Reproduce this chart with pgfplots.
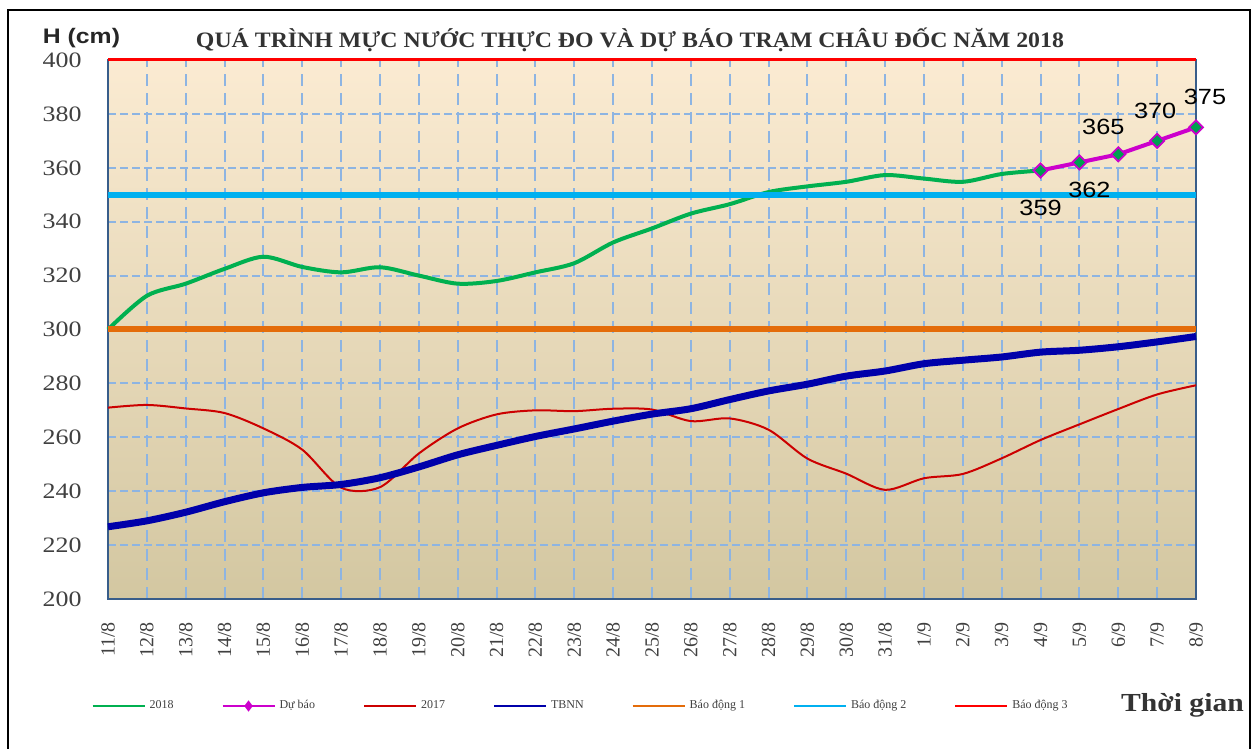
\documentclass[border=0pt]{standalone}
\usepackage{fontspec}
\setmainfont{Liberation Serif}
\newfontfamily\arialfont{Liberation Sans}
\usepackage{pgfplots}
\usepackage{pgfplotstable}
\pgfplotsset{compat=1.18}

\definecolor{cGreen}{HTML}{00B050}
\definecolor{cMag}{HTML}{CC00CC}
\definecolor{cMark}{HTML}{00A050}
\definecolor{cRedA}{HTML}{CC0000}
\definecolor{cTBNN}{HTML}{0000AA}
\definecolor{cOrange}{HTML}{E46C0A}
\definecolor{cCyan}{HTML}{00B0F0}
\definecolor{cRed}{HTML}{FF0000}
\definecolor{cGrid}{HTML}{8DB4E2}
\definecolor{cAxis}{HTML}{385D8A}
\definecolor{bgTop}{HTML}{FBEBD2}
\definecolor{bgMid}{HTML}{F2EBD6}
\definecolor{bgBot}{HTML}{D3C7A1}
\definecolor{txt}{HTML}{404040}

\pgfplotstableread{
x y
0 300
1 312.5
2 317
3 322.5
4 327
5 323.2
6 321.2
7 323.1
8 320
9 317
10 318
11 321.2
12 324.6
13 332.3
14 337.5
15 343
16 346.5
17 351
18 353.1
19 354.8
20 357.3
21 356
22 354.8
23 357.7
24 359
}\tblA

\pgfplotstableread{
x y dx dy
24 359 0 -18.5
25 362 5 -14
26 365 -7.5 13.5
27 370 -1 15
28 375 4.5 15
}\tblF

\pgfplotstableread{
x y
0 271
1 272
2 270.7
3 269
4 263.3
5 255.4
6 241.3
7 241.5
8 254
9 263.3
10 268.5
11 270
12 269.7
13 270.6
14 270.3
15 266
16 267
17 262.8
18 252.1
19 246.5
20 240.5
21 244.8
22 246.4
23 252.2
24 259
25 264.8
26 270.5
27 275.9
28 279.3
}\tblB

\pgfplotstableread{
x y
0 226.8
1 229
2 232.2
3 236.1
4 239.4
5 241.4
6 242.5
7 245
8 249
9 253.5
10 257
11 260.3
12 263.1
13 266
14 268.6
15 270.6
16 274
17 277.2
18 279.7
19 282.7
20 284.6
21 287.3
22 288.6
23 289.8
24 291.6
25 292.3
26 293.6
27 295.4
28 297.4
}\tblC

\begin{document}
\begin{tikzpicture}
\begin{axis}[
  at={(54pt,75pt)}, anchor=south west,
  scale only axis, width=544pt, height=269.5pt,
  set layers,
  clip=false,
  /pgf/number format/assume math mode=true,
  xmin=0, xmax=28, ymin=200, ymax=400,
  xtick={0,...,28},
  xticklabels={11/8,12/8,13/8,14/8,15/8,16/8,17/8,18/8,19/8,20/8,21/8,22/8,23/8,24/8,25/8,26/8,27/8,28/8,29/8,30/8,31/8,1/9,2/9,3/9,4/9,5/9,6/9,7/9,8/9},
  ytick={200,220,...,400},
  grid=major,
  major x grid style={cGrid, line width=1pt, dash pattern=on 6pt off 3.5pt},
  major y grid style={cGrid, line width=1pt, dash pattern=on 4pt off 2pt},
  axis line style={cAxis, line width=0.75pt},
  major tick length=0pt,
  axis background/.style={top color=bgTop, middle color=bgMid, bottom color=bgBot},
  yticklabel style={font=\fontsize{11}{11}\selectfont, text=txt, anchor=east, xshift=-9pt, xscale=1.18},
  xticklabel style={font=\fontsize{10}{10}\selectfont, text=txt, yshift=-8pt, rotate=90, anchor=east},
  legend columns=7,
  legend cell align=left,
  legend style={at={(axis description cs:-0.0155,-0.1985)}, anchor=west, draw=none, fill=none,
    font=\fontsize{6}{6.5}\selectfont, text=txt, inner sep=0pt,
    /tikz/every even column/.append style={column sep=22pt}},
  legend image code/.code={\draw[mark repeat=2,mark phase=2,#1] plot coordinates {(0pt,0pt) (13pt,0pt) (26pt,0pt)};},
]
\addplot[cGreen, line width=2pt, smooth, tension=0.5, forget plot] table[x=x,y=y] {\tblA};
\addplot[cMag, line width=2pt, mark=square*, mark size=2.5pt, mark options={rotate=45, fill=cMark, draw=cMag, line width=0.9pt}, forget plot] table[x=x,y=y] {\tblF};
\addplot[cRedA, line width=1pt, smooth, tension=0.5, forget plot] table[x=x,y=y] {\tblB};
\addplot[cTBNN, line width=3.5pt, smooth, tension=0.5, forget plot] table[x=x,y=y] {\tblC};
\addplot[cOrange, line width=3pt, forget plot] coordinates {(0,300) (28,300)};
\addplot[cCyan, line width=3pt, forget plot] coordinates {(0,350) (28,350)};
\addplot[cRed, line width=1.5pt, forget plot] coordinates {(0,400) (28,400)};
\addplot[draw=none, no marks, forget plot, point meta=explicit,
  nodes near coords={\arialfont\pgfmathprintnumber[assume math mode=true]{\pgfplotspointmeta}},
  visualization depends on={\thisrow{dx}\as\dx},
  visualization depends on={\thisrow{dy}\as\dy},
  every node near coord/.append style={anchor=center, xshift=\dx pt, yshift=\dy pt, font=\arialfont\fontsize{11}{11}\selectfont, text=black, xscale=1.15}]
  table[x=x,y=y,meta=y] {\tblF};

\addlegendimage{cGreen, line width=1pt}
\addlegendentry{2018}
\addlegendimage{cMag, line width=1pt, mark=diamond*, mark size=2pt, mark options={fill=cMag}}
\addlegendentry{Dự báo}
\addlegendimage{cRedA, line width=1pt}
\addlegendentry{2017}
\addlegendimage{cTBNN, line width=1pt}
\addlegendentry{TBNN}
\addlegendimage{cOrange, line width=1pt}
\addlegendentry{Báo động 1}
\addlegendimage{cCyan, line width=1pt}
\addlegendentry{Báo động 2}
\addlegendimage{cRed, line width=1pt}
\addlegendentry{Báo động 3}
\end{axis}
\node[font=\bfseries\fontsize{11}{11}\selectfont, text=black!80, xscale=1.083] at (315pt,354.5pt) {QUÁ TRÌNH MỰC NƯỚC THỰC ĐO VÀ DỰ BÁO TRẠM CHÂU ĐỐC NĂM 2018};
\node[font=\arialfont\bfseries\fontsize{10.5}{10.5}\selectfont, text=black!85, xscale=1.18] at (40.75pt,355.5pt) {H (cm)};
\node[font=\bfseries\fontsize{13}{13}\selectfont, text=black!80, xscale=1.14] at (591.25pt,22pt) {Thời gian};
\draw[black, line width=1pt] (4pt,-5pt) -- (4pt,369.5pt) -- (625pt,369.5pt) -- (625pt,-5pt);
\pgfresetboundingbox
\path[use as bounding box] (0,0) rectangle (629.5pt,374.5pt);
\end{tikzpicture}
\end{document}
